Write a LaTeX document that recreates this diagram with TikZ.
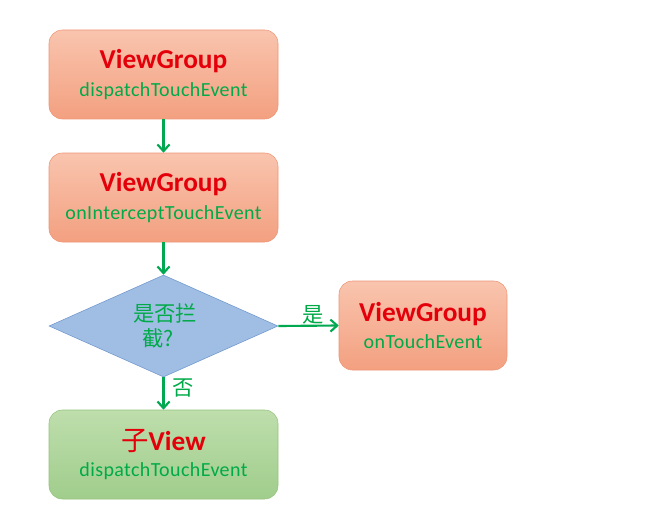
\documentclass[tikz,border=0pt]{standalone}
\usepackage{fontspec}
\setmainfont{Carlito}
\newfontfamily\cjk{Noto Sans CJK SC}
\usetikzlibrary{shapes.geometric,arrows.meta}
\definecolor{boxfillA}{RGB}{249,196,174}
\definecolor{boxfillB}{RGB}{243,160,128}
\definecolor{boxline}{RGB}{236,150,118}
\definecolor{gfillA}{RGB}{190,222,172}
\definecolor{gfillB}{RGB}{160,205,140}
\definecolor{gline}{RGB}{150,195,125}
\definecolor{dfill}{RGB}{160,190,228}
\definecolor{dline}{RGB}{110,150,205}
\definecolor{arrowgreen}{RGB}{0,168,80}
\definecolor{titlered}{RGB}{228,0,10}
\definecolor{subgreen}{RGB}{0,170,72}
\newcommand{\ttltext}[1]{{\bfseries\fontsize{20.5}{22}\selectfont\color{titlered}#1}}
\newcommand{\subtext}[1]{{\fontsize{15}{17}\selectfont\addfontfeatures{LetterSpace=2}\color{subgreen}#1}}
\tikzset{
  x=0.75pt,y=-0.75pt,
  obox/.style={rounded corners=10pt,draw=boxline,top color=boxfillA,bottom color=boxfillB,minimum width=171.75pt,minimum height=66.75pt,align=center,inner sep=0pt},
  gbox/.style={rounded corners=10pt,draw=gline,top color=gfillA,bottom color=gfillB,minimum width=171.75pt,minimum height=66.75pt,align=center,inner sep=0pt},
  smallbox/.style={obox,minimum width=126pt},
  flow/.style={draw=arrowgreen,line width=1.6pt,-{Straight Barb[length=5pt,width=9pt,line width=1.6pt]}},
  lbl/.style={font=\cjk\fontsize{16}{18}\selectfont,text=subgreen}
}
\begin{document}
\begin{tikzpicture}
\useasboundingbox (0,0) rectangle (650,528);
\node[obox] (b1) at (163.5,74.5) {\ttltext{ViewGroup}\\[6pt]\subtext{dispatchTouchEvent}};
\node[obox] (b2) at (163.5,197.5) {\ttltext{ViewGroup}\\[6pt]\subtext{onInterceptTouchEvent}};
\node[draw=dline,fill=dfill,diamond,aspect=2.25,minimum width=171.75pt,minimum height=76.5pt,inner sep=0pt] (d) at (163.5,326) {};
\node[lbl,font=\cjk\fontsize{16}{19}\selectfont,align=left] (dq) at (165,326) {是否拦\\\hspace{7pt}截?};
\node[smallbox] (b3) at (423,325.5) {\ttltext{ViewGroup}\\[6pt]\subtext{onTouchEvent}};
\node[gbox] (b4) at (163.5,454.5) {\ttltext{{\cjk\mdseries 子}View}\\[6pt]\subtext{dispatchTouchEvent}};
\draw[flow] (b1.south) -- (b2.north);
\draw[flow] (b2.south) -- (d.north);
\draw[flow] (d.east) -- node[lbl,above,pos=0.57,inner sep=0pt] (yes) {是} (b3.west);
\draw[flow] (d.south) -- node[lbl,right,pos=0.33,inner sep=6pt] (no) {否} (b4.north);
\end{tikzpicture}
\end{document}
